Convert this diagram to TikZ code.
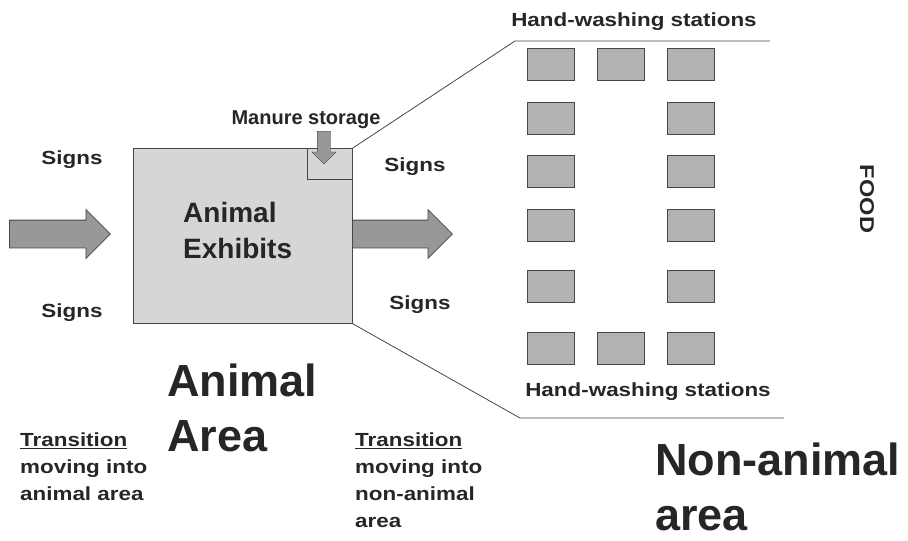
\documentclass[tikz,border=0pt]{standalone}
\usepackage{fontspec}
\setmainfont{Liberation Sans}
\newfontfamily\widesans{Liberation Sans}[FakeStretch=1.18]
\usetikzlibrary{shapes.arrows}
\definecolor{zonegray}{RGB}{214, 214, 214}
\definecolor{arrowgray}{RGB}{152, 152, 152}
\definecolor{stationgray}{RGB}{178, 178, 178}
\definecolor{edgegray}{RGB}{70, 70, 70}

\begin{document}
\begin{tikzpicture}[x=1pt, y=-1pt,
    label/.style={font=\widesans\bfseries\fontsize{19}{27}\selectfont, text=black!85, inner sep=0pt},
    bigtext/.style={font=\bfseries\fontsize{45}{55}\selectfont, text=black!85, inner sep=0pt, align=left},
    bigarrow/.style={single arrow, draw=edgegray, thick, fill=arrowgray, inner xsep=0pt, inner ysep=13.5pt,
        single arrow head extend=10.5pt, minimum width=48pt},
    station/.style={draw=edgegray, thick, fill=stationgray, minimum width=47pt, minimum height=32pt, inner sep=0pt},
    zoneline/.style={thick, edgegray}]
\useasboundingbox (0,0) rectangle (908,541);

% === Animal exhibits ===
\node[draw=edgegray, thick, fill=zonegray, minimum width=219pt, minimum height=175pt,
    anchor=north west, inner sep=0pt] (exhibits) at (133,148) {};
\node[font=\bfseries\fontsize{28}{36}\selectfont, text=black!85, align=left, anchor=west, inner sep=0pt]
    (exhibitstext) at (183,230) {Animal\\Exhibits};

% Manure storage
\node[draw=edgegray, thick, minimum width=45pt, minimum height=31pt, anchor=north east, inner sep=0pt]
    (manure) at (exhibits.north east) {};
\node[single arrow, draw=edgegray, fill=arrowgray, inner xsep=0pt, inner ysep=6.5pt, rotate=-90,
    single arrow head extend=5.5pt, minimum width=24pt, minimum height=33pt, anchor=tail]
    (manurearrow) at (324,131) {};
\node[font=\bfseries\fontsize{20}{24}\selectfont, text=black!85, inner sep=0pt] (manuretext) at (306,120) {Manure storage};

% Arrows in and out
\node[bigarrow, minimum height=101pt, anchor=tail] (inarrow) at (9,234) {};
\node[bigarrow, minimum height=100pt, anchor=tail] (outarrow) at (352,234) {};

% Signs
\node[label] (signs1) at (72,160) {Signs};
\node[label] (signs2) at (72,313) {Signs};
\node[label] (signs3) at (415,167) {Signs};
\node[label] (signs4) at (420,305) {Signs};

% === Non-animal area ===
\coordinate (topbend) at (515,41);
\coordinate (topend) at (770,41);
\coordinate (bottombend) at (520,418);
\coordinate (bottomend) at (784,418);
\draw[zoneline] (exhibits.north east) -- (topbend) -- (topend);
\draw[zoneline] (exhibits.south east) -- (bottombend) -- (bottomend);

\node[label] (handwash1) at (634,22) {Hand-washing stations};
\node[label] (handwash2) at (648,392) {Hand-washing stations};

% Hand-washing stations
\foreach \y [count=\r] in {64,118,171,225,286.5,348.5} {
    \node[station] (st\r a) at (551,\y) {};
    \node[station] (st\r c) at (691,\y) {};
}
\foreach \y/\r in {64/1, 348.5/6}
    \node[station] (st\r b) at (621,\y) {};

\node[label, rotate=-90, font=\widesans\bfseries\fontsize{20}{24}\selectfont] (food) at (867,199) {FOOD};

% === Area names ===
\node[bigtext, anchor=north west] (animalarea) at (167,364) {Animal\\Area};
\node[bigtext, anchor=north west] (nonanimalarea) at (655,443) {Non-animal\\area};

% Transitions
\node[label, align=left, anchor=north west] (transin) at (20,433)
    {\underline{Transition}\\moving into\\animal area};
\node[label, align=left, anchor=north west] (transout) at (355,433)
    {\underline{Transition}\\moving into\\non-animal\\area};

\end{tikzpicture}
\end{document}
